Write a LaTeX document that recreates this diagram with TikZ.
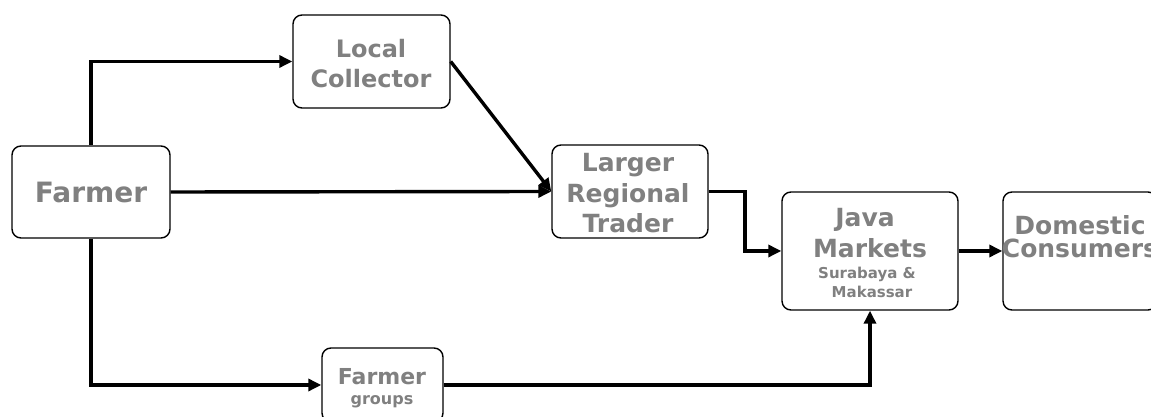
\documentclass[tikz,border=0pt]{standalone}
\usepackage{fontspec}
\setmainfont{DejaVu Sans}
\usetikzlibrary{arrows.meta}
\definecolor{txtgray}{HTML}{808080}
\begin{document}
\begin{tikzpicture}[x=1pt,y=1pt,
  box/.style={draw=black, line width=1.4pt, rounded corners=9pt, fill=white, inner sep=0pt},
  lbl/.style={text=txtgray, anchor=base, inner sep=0pt, font=\bfseries\fontsize{#1}{#1}\selectfont},
  conn/.style={line width=3.4pt, -{Triangle[length=13pt,width=12pt]}}]
\useasboundingbox (0,0) rectangle (1151,417);
\begin{scope}
\clip (0,0) rectangle (1151,417);
% boxes (y = 417 - pixel y)
\node[box, minimum width=158, minimum height=92] (farmer) at (91,225) {};
\node[box, minimum width=157, minimum height=93] (lc) at (371.5,355.5) {};
\node[box, minimum width=156, minimum height=93] (lrt) at (630,225.5) {};
\node[box, minimum width=176, minimum height=118] (jm) at (870,166) {};
\node[box, minimum width=154, minimum height=118] (dc) at (1080,166) {};
\node[box, minimum width=121, minimum height=74] (fg) at (382.5,32) {};
% texts
\node[lbl=28] (t1) at (91,214) {Farmer};
\node[lbl=24] (t2) at (371,359) {Local};
\node[lbl=24] (t3) at (371,329) {Collector};
\node[lbl=25] (t4) at (628,245) {Larger};
\node[lbl=25] (t5) at (628,214) {Regional};
\node[lbl=25] (t6) at (628,184) {Trader};
\node[lbl=25] (t7) at (865,190) {Java};
\node[lbl=25] (t8) at (870,159) {Markets};
\node[lbl=15] (t9) at (867,138) {Surabaya \&};
\node[lbl=15] (t10) at (872,119) {Makassar};
\node[lbl=25] (t11) at (1080,182) {Domestic};
\node[lbl=25] (t12) at (1080,159) {Consumers};
\node[lbl=22] (t13) at (382,32) {Farmer};
\node[lbl=16] (t14) at (382,12) {groups};
% connectors
\draw[conn] (farmer.north) |- (lc.west);
\draw[conn] (farmer.east) -- (lrt.west);
\draw[conn] (lc.east) -- (lrt.west);
\coordinate (bend) at (745,0);
\draw[conn] (lrt.east) -- (bend |- lrt.east) |- (jm.west);
\draw[conn] (jm.east) -- (dc.west);
\draw[conn] (farmer.south) |- (fg.west);
\draw[conn] (fg.east) -| (jm.south);
\end{scope}
\end{tikzpicture}
\end{document}
